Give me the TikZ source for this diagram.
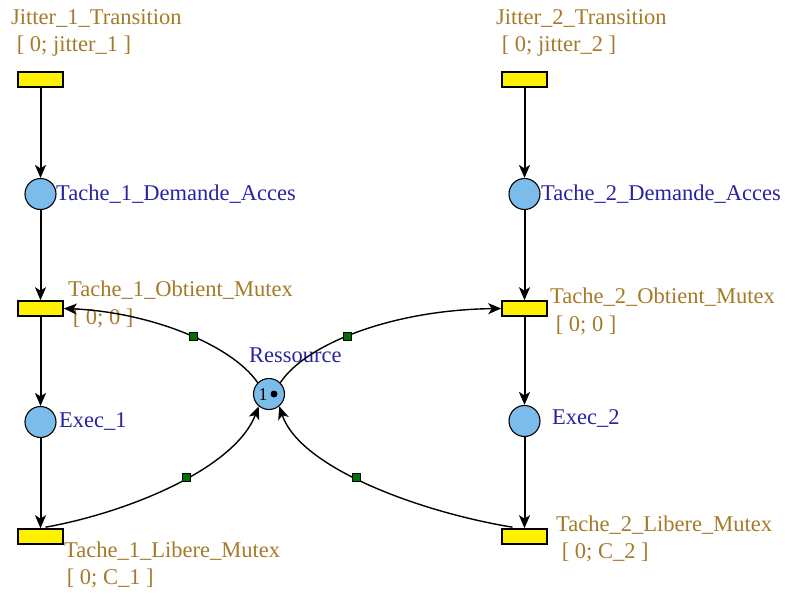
\documentclass[tikz,border=0pt]{standalone}
\usepackage{fontspec}
\setmainfont{Liberation Serif}
\usetikzlibrary{arrows.meta}
\definecolor{gold}{RGB}{165,122,40}
\definecolor{navy}{RGB}{40,35,160}
\definecolor{placeblue}{RGB}{124,188,235}
\definecolor{dgreen}{RGB}{0,112,0}
\tikzset{
  trans/.style={draw=black, fill=yellow, minimum width=45pt, minimum height=15pt, inner sep=0pt, line width=1.6pt},
  place/.style={circle, draw=black, fill=placeblue, minimum size=31pt, inner sep=0pt, line width=1.1pt},
  glabel/.style={anchor=west, inner sep=0pt, text=gold, font=\fontsize{22.5}{26}\selectfont},
  blabel/.style={anchor=west, inner sep=0pt, text=navy, font=\fontsize{22.5}{26}\selectfont},
  varc/.style={line width=2pt, -{Stealth[length=13pt,width=11pt,inset=3.5pt]}},
  carc/.style={line width=1.4pt, -{Stealth[length=13pt,width=11pt,inset=3.5pt]}},
  knot/.style={draw=black, fill=dgreen, minimum size=8pt, inner sep=0pt, line width=0.9pt}
}
\begin{document}
\begin{tikzpicture}[x=1pt,y=-1pt]
\useasboundingbox (0,0) rectangle (785,597);
% left column
\node[trans] (j1) at (40.5,79.5) {};
\node[place] (d1) at (40.5,194) {};
\node[trans] (o1) at (40.5,308.5) {};
\node[place] (e1) at (40.5,422) {};
\node[trans] (l1) at (40.5,536.5) {};
% right column
\node[trans] (j2) at (524.5,79.5) {};
\node[place] (d2) at (524.5,194) {};
\node[trans] (o2) at (524.5,308.5) {};
\node[place] (e2) at (524.5,421) {};
\node[trans] (l2) at (524.5,536.5) {};
% resource
\node[place] (r) at (269,394) {};
\node[inner sep=0pt, font=\fontsize{18}{18}\selectfont] (rtok) at (263,395) {1};
\node[circle, fill=black, minimum size=7pt, inner sep=0pt] (rdot) at (274,394) {};
% labels
\node[glabel] (lj1a) at (11,19) {Jitter\_1\_Transition};
\node[glabel] (lj1b) at (11,46) {\ [ 0; jitter\_1 ]};
\node[blabel] (ld1) at (56,194) {Tache\_1\_Demande\_Acces};
\node[glabel] (lo1a) at (68,290) {Tache\_1\_Obtient\_Mutex};
\node[glabel] (lo1b) at (67,318) {\ [ 0; 0 ]};
\node[blabel] (lr) at (249,355) {Ressource};
\node[blabel] (le1) at (59,422) {Exec\_1};
\node[glabel] (ll1a) at (64,551) {Tache\_1\_Libere\_Mutex};
\node[glabel] (ll1b) at (61,578) {\ [ 0; C\_1 ]};
\node[glabel] (lj2a) at (496,19) {Jitter\_2\_Transition};
\node[glabel] (lj2b) at (496,46) {\ [ 0; jitter\_2 ]};
\node[blabel] (ld2) at (541,194) {Tache\_2\_Demande\_Acces};
\node[glabel] (lo2a) at (550,297) {Tache\_2\_Obtient\_Mutex};
\node[glabel] (lo2b) at (550,325) {\ [ 0; 0 ]};
\node[blabel] (le2) at (552,418) {Exec\_2};
\node[glabel] (ll2a) at (556,525) {Tache\_2\_Libere\_Mutex};
\node[glabel] (ll2b) at (556,552) {\ [ 0; C\_2 ]};
% vertical arcs
\draw[varc] (j1) -- (d1);
\draw[varc] (d1) -- (o1);
\draw[varc] (o1) -- (e1);
\draw[varc] (e1) -- (l1);
\draw[varc] (j2) -- (d2);
\draw[varc] (d2) -- (o2);
\draw[varc] (o2) -- (e2);
\draw[varc] (e2) -- (l2);
% resource arcs
\draw[carc] (r.135) .. controls (232,345) and (150,312) .. (o1.east) node[knot, pos=0.45] {};
\draw[carc] (r.45) .. controls (305,345) and (390,310) .. (o2.west) node[knot, pos=0.45] {};
\draw[carc] (l1.north) ++(5,-1) coordinate (l1s) (l1s) .. controls (130,512) and (235,468) .. (r.230) node[knot, pos=0.55] {};
\draw[carc] (l2.north) ++(-12,-1) coordinate (l2s) (l2s) .. controls (420,512) and (300,468) .. (r.310) node[knot, pos=0.55] {};
\end{tikzpicture}
\end{document}
